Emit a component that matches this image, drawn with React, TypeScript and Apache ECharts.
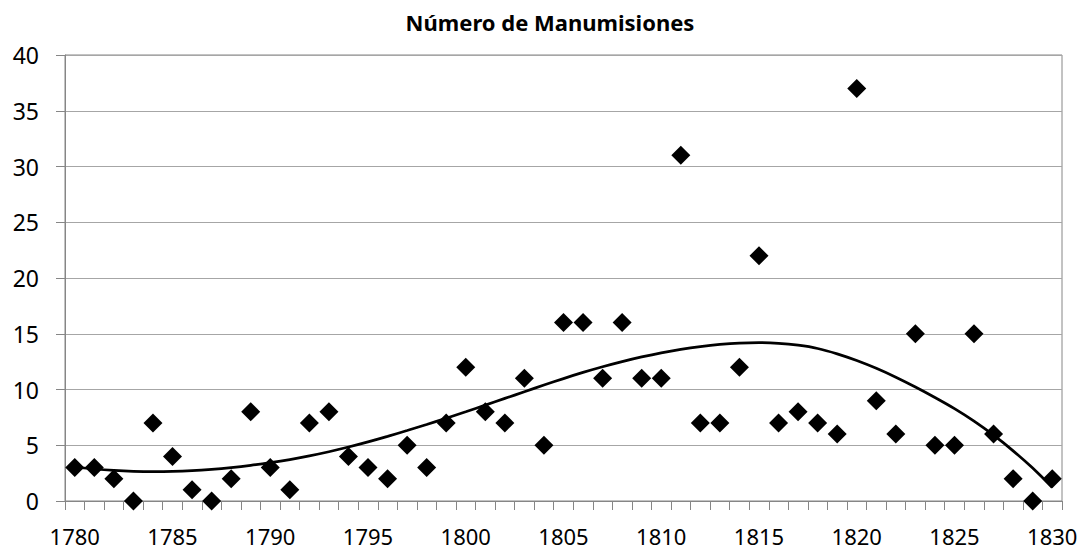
import React, { useEffect, useRef } from "react";
import * as echarts from "echarts";

const years: string[] = [
  "1780","1781","1782","1783","1784","1785","1786","1787","1788","1789",
  "1790","1791","1792","1793","1794","1795","1796","1797","1798","1799",
  "1800","1801","1802","1803","1804","1805","1806","1807","1808","1809",
  "1810","1811","1812","1813","1814","1815","1816","1817","1818","1819",
  "1820","1821","1822","1823","1824","1825","1826","1827","1828","1829","1830",
];

const manumisiones: number[] = [
  3, 3, 2, 0, 7, 4, 1, 0, 2, 8,
  3, 1, 7, 8, 4, 3, 2, 5, 3, 7,
  12, 8, 7, 11, 5, 16, 16, 11, 16, 11,
  11, 31, 7, 7, 12, 22, 7, 8, 7, 6,
  37, 9, 6, 15, 5, 5, 15, 6, 2, 0, 2,
];

// trend line values
const tendencia: number[] = [
  3.05, 2.87, 2.74, 2.66, 2.63, 2.65, 2.72, 2.84, 3.0, 3.2,
  3.44, 3.72, 4.05, 4.42, 4.84, 5.3, 5.8, 6.32, 6.86, 7.42,
  8.0, 8.6, 9.2, 9.8, 10.4, 10.98, 11.53, 12.04, 12.5, 12.92,
  13.29, 13.6, 13.85, 14.04, 14.16, 14.2, 14.14, 13.97, 13.68, 13.2,
  12.6, 11.9, 11.1, 10.22, 9.28, 8.28, 7.16, 5.9, 4.5, 2.95, 1.2,
];

const yTicks: number[] = [0, 5, 10, 15, 20, 25, 30, 35, 40];

export default function App() {
  const ref = useRef<HTMLDivElement>(null);
  useEffect(() => {
    document.body.style.margin = "0";
    const chart = echarts.init(ref.current!, null, { renderer: "svg" });
    const font = "Noto Sans";
    chart.setOption({
      animation: false,
      backgroundColor: "#ffffff",
      title: {
        text: "Número de Manumisiones",
        left: 545,
        top: 6,
        textAlign: "center",
        textStyle: { fontFamily: font, fontWeight: "bold", fontSize: 22, color: "#000" },
      },
      grid: {
        left: 65,
        right: 26,
        top: 55,
        bottom: 49,
        show: true,
        borderColor: "#868686",
        borderWidth: 1,
      },
      xAxis: {
        type: "category",
        data: years,
        boundaryGap: true,
        axisLine: { show: true, lineStyle: { color: "#868686", width: 1 } },
        axisTick: { show: true, interval: 0, length: 9, lineStyle: { color: "#868686" } },
        axisLabel: {
          interval: 4,
          margin: 26,
          fontFamily: font,
          fontSize: 22,
          lineHeight: 18,
          color: "#000",
        },
        splitLine: { show: false },
      },
      yAxis: {
        type: "value",
        min: yTicks[0],
        max: yTicks[yTicks.length - 1],
        interval: 5,
        axisLine: { show: true, lineStyle: { color: "#868686", width: 1 } },
        axisTick: { show: true, length: 9, lineStyle: { color: "#868686" } },
        axisLabel: { margin: 26, fontFamily: font, fontSize: 23, color: "#000" },
        splitLine: { show: true, lineStyle: { color: "#a6a6a6", width: 1 } },
      },
      series: [
        {
          name: "Tendencia",
          type: "line",
          data: tendencia,
          smooth: 0.3,
          symbol: "none",
          lineStyle: { color: "#000", width: 2.75 },
          z: 2,
        },
        {
          name: "Manumisiones",
          type: "scatter",
          data: manumisiones,
          symbol: "diamond",
          symbolSize: 19,
          itemStyle: { color: "#000", opacity: 1 },
          z: 3,
        },
      ],
    });
    return () => chart.dispose();
  }, []);
  return <div ref={ref} style={{ width: 1088, height: 550 }} />;
}
